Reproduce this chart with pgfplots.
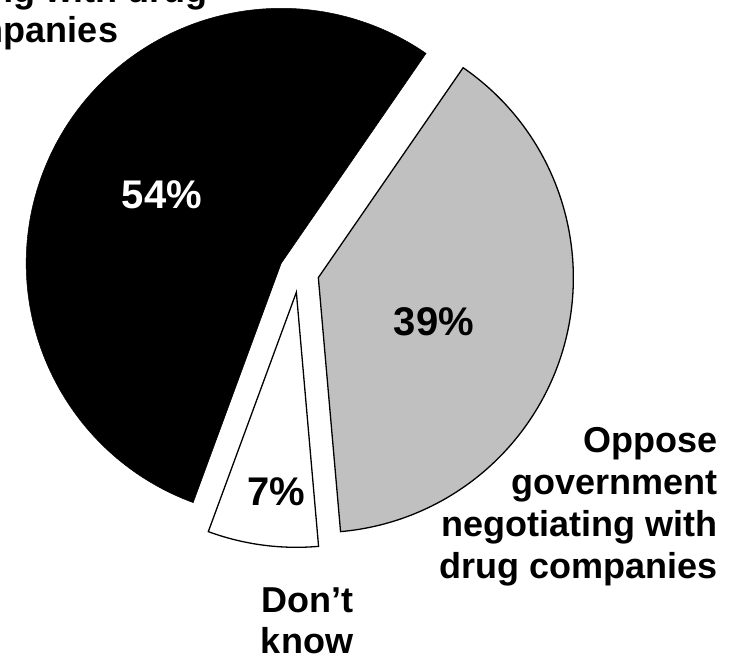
\documentclass[border=0pt]{standalone}
\usepackage{pgfplots}
\pgfplotsset{compat=1.18}
\usepackage{fontspec}
\setmainfont{Liberation Sans}
\definecolor{piegray}{RGB}{192,192,192}
% slice values (percent), clockwise from the start angle
\def\vOppose{39}
\def\vDontKnow{7}
\def\vFavor{54}
\def\sa{55.4}
\begin{document}
\begin{tikzpicture}
\useasboundingbox (0,0) rectangle (744pt,658pt);
\clip (0,0) rectangle (744pt,658pt);
\begin{axis}[x=1pt,y=1pt,xmin=0,xmax=744,ymin=0,ymax=658,
  hide axis,clip=false,anchor=south west,at={(0,0)}]
% Oppose slice
\filldraw[fill=piegray,draw=black,line width=1.3pt,line join=miter]
  (axis cs:299,385.5) ++({\sa-\vOppose*1.8}:20pt) -- ++(\sa:255pt)
  arc[start angle=\sa, end angle={\sa-\vOppose*3.6}, radius=255pt] -- cycle;
% Don't know slice
\filldraw[fill=white,draw=black,line width=1.3pt,line join=miter]
  (axis cs:299,385.5) ++({\sa-(\vOppose+\vDontKnow/2)*3.6}:20pt) -- ++({\sa-\vOppose*3.6}:255pt)
  arc[start angle={\sa-\vOppose*3.6}, end angle={\sa-(\vOppose+\vDontKnow)*3.6}, radius=255pt] -- cycle;
% Favor slice
\filldraw[fill=black,draw=black,line width=0.5pt,line join=miter]
  (axis cs:299,385.5) ++({\sa-(\vOppose+\vDontKnow+\vFavor/2)*3.6}:20pt) -- ++({\sa-(\vOppose+\vDontKnow)*3.6}:255pt)
  arc[start angle={\sa-(\vOppose+\vDontKnow)*3.6}, end angle={\sa-(\vOppose+\vDontKnow+\vFavor)*3.6}, radius=255pt] -- cycle;
% percentage labels
\node[font=\fontsize{40}{48}\selectfont\bfseries,text=white,inner sep=0pt] at (axis cs:162,463) {54\%};
\node[font=\fontsize{40}{48}\selectfont\bfseries,text=black,inner sep=0pt] at (axis cs:434,336) {39\%};
\node[font=\fontsize{40}{48}\selectfont\bfseries,text=black,inner sep=0pt] at (axis cs:276,166) {7\%};
% category labels
\begin{scope}[every node/.style={font=\fontsize{36}{41}\selectfont\bfseries,inner sep=0pt}]
\node[anchor=base east] at (axis cs:718,205) {Oppose};
\node[anchor=base east] at (axis cs:718,163) {government};
\node[anchor=base east] at (axis cs:718,121) {negotiating with};
\node[anchor=base east] at (axis cs:718,79) {drug companies};
\node[anchor=base] at (axis cs:307,45) {Don’t};
\node[anchor=base] at (axis cs:307,4) {know};
\node[anchor=base] at (axis cs:24,697) {Favor government};
\node[anchor=base] at (axis cs:24,655) {negotiating with drug};
\node[anchor=base] at (axis cs:24,615) {companies};
\end{scope}
\end{axis}
\end{tikzpicture}
\end{document}
